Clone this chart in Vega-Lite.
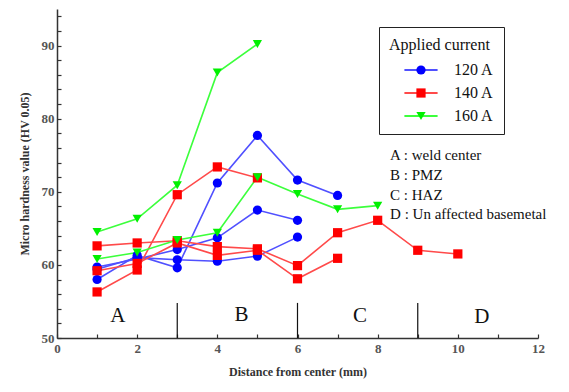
{
  "$schema": "https://vega.github.io/schema/vega-lite/v6.json",
  "width": 481,
  "height": 329,
  "autosize": "none",
  "padding": {"left": 57, "top": 9, "right": 31, "bottom": 54},
  "background": "white",
  "config": {"view": {"stroke": null}, "font": "Liberation Serif, serif"},
  "datasets": {
    "series": [
      {"x": 1, "y": 58.0, "current": "120 A", "run": "B1"},
      {"x": 2, "y": 61.3, "current": "120 A", "run": "B1"},
      {"x": 3, "y": 59.6, "current": "120 A", "run": "B1"},
      {"x": 4, "y": 71.2, "current": "120 A", "run": "B1"},
      {"x": 5, "y": 77.7, "current": "120 A", "run": "B1"},
      {"x": 6, "y": 71.6, "current": "120 A", "run": "B1"},
      {"x": 7, "y": 69.5, "current": "120 A", "run": "B1"},
      {"x": 1, "y": 59.7, "current": "120 A", "run": "B2"},
      {"x": 2, "y": 60.8, "current": "120 A", "run": "B2"},
      {"x": 3, "y": 62.1, "current": "120 A", "run": "B2"},
      {"x": 4, "y": 63.7, "current": "120 A", "run": "B2"},
      {"x": 5, "y": 67.5, "current": "120 A", "run": "B2"},
      {"x": 6, "y": 66.1, "current": "120 A", "run": "B2"},
      {"x": 1, "y": 59.4, "current": "120 A", "run": "B3"},
      {"x": 2, "y": 61.0, "current": "120 A", "run": "B3"},
      {"x": 3, "y": 60.7, "current": "120 A", "run": "B3"},
      {"x": 4, "y": 60.5, "current": "120 A", "run": "B3"},
      {"x": 5, "y": 61.2, "current": "120 A", "run": "B3"},
      {"x": 6, "y": 63.8, "current": "120 A", "run": "B3"},
      {"x": 1, "y": 56.3, "current": "140 A", "run": "R1"},
      {"x": 2, "y": 59.3, "current": "140 A", "run": "R1"},
      {"x": 3, "y": 69.6, "current": "140 A", "run": "R1"},
      {"x": 4, "y": 73.4, "current": "140 A", "run": "R1"},
      {"x": 5, "y": 71.9, "current": "140 A", "run": "R1"},
      {"x": 1, "y": 62.6, "current": "140 A", "run": "R2"},
      {"x": 2, "y": 63.0, "current": "140 A", "run": "R2"},
      {"x": 3, "y": 63.3, "current": "140 A", "run": "R2"},
      {"x": 4, "y": 62.5, "current": "140 A", "run": "R2"},
      {"x": 5, "y": 62.2, "current": "140 A", "run": "R2"},
      {"x": 6, "y": 59.9, "current": "140 A", "run": "R2"},
      {"x": 7, "y": 64.4, "current": "140 A", "run": "R2"},
      {"x": 8, "y": 66.1, "current": "140 A", "run": "R2"},
      {"x": 9, "y": 62.0, "current": "140 A", "run": "R2"},
      {"x": 10, "y": 61.5, "current": "140 A", "run": "R2"},
      {"x": 1, "y": 59.2, "current": "140 A", "run": "R3"},
      {"x": 2, "y": 60.2, "current": "140 A", "run": "R3"},
      {"x": 3, "y": 63.0, "current": "140 A", "run": "R3"},
      {"x": 4, "y": 61.3, "current": "140 A", "run": "R3"},
      {"x": 5, "y": 62.0, "current": "140 A", "run": "R3"},
      {"x": 6, "y": 58.1, "current": "140 A", "run": "R3"},
      {"x": 7, "y": 60.9, "current": "140 A", "run": "R3"},
      {"x": 1, "y": 64.5, "current": "160 A", "run": "G1"},
      {"x": 2, "y": 66.3, "current": "160 A", "run": "G1"},
      {"x": 3, "y": 70.9, "current": "160 A", "run": "G1"},
      {"x": 4, "y": 86.3, "current": "160 A", "run": "G1"},
      {"x": 5, "y": 90.2, "current": "160 A", "run": "G1"},
      {"x": 1, "y": 60.8, "current": "160 A", "run": "G2"},
      {"x": 2, "y": 61.7, "current": "160 A", "run": "G2"},
      {"x": 3, "y": 63.4, "current": "160 A", "run": "G2"},
      {"x": 4, "y": 64.4, "current": "160 A", "run": "G2"},
      {"x": 5, "y": 72.0, "current": "160 A", "run": "G2"},
      {"x": 6, "y": 69.7, "current": "160 A", "run": "G2"},
      {"x": 7, "y": 67.6, "current": "160 A", "run": "G2"},
      {"x": 8, "y": 68.1, "current": "160 A", "run": "G2"}
    ],
    "zones": [
      {"x": 3, "y": 50, "ytop": 54.8},
      {"x": 6, "y": 50, "ytop": 54.8},
      {"x": 9, "y": 50, "ytop": 54.8}
    ],
    "zlabels": [
      {"x": 1.52, "y": 53.0, "label": "A"},
      {"x": 4.6, "y": 53.1, "label": "B"},
      {"x": 7.56, "y": 53.0, "label": "C"},
      {"x": 10.6, "y": 52.9, "label": "D"}
    ],
    "notes": [
      {"x": 8.31, "y": 75.0, "label": "A : weld center"},
      {"x": 8.31, "y": 72.3, "label": "B : PMZ"},
      {"x": 8.31, "y": 69.6, "label": "C : HAZ"},
      {"x": 8.31, "y": 67.0, "label": "D : Un affected basemetal"}
    ]
  },
  "encoding": {
    "x": {
      "field": "x",
      "type": "quantitative",
      "scale": {"domain": [0, 12], "nice": false, "zero": false},
      "axis": {
        "title": "Distance from center (mm)",
        "values": [0, 0.5, 1, 1.5, 2, 2.5, 3, 3.5, 4, 4.5, 5, 5.5, 6, 6.5, 7, 7.5, 8, 8.5, 9, 9.5, 10, 10.5, 11, 11.5, 12],
        "format": "d",
        "labelExpr": "datum.value % 2 === 0 ? format(datum.value, 'd') : ''",
        "tickSize": -4,
        "labelPadding": 8,
        "grid": false,
        "domainColor": "#333",
        "domainWidth": 1.5,
        "tickColor": "#333",
        "tickWidth": 1.2,
        "labelFont": "Liberation Serif, serif",
        "labelFontSize": 13,
        "labelFontWeight": "bold",
        "labelColor": "#555",
        "labelFlush": false,
        "labelOverlap": false,
        "titleFont": "Liberation Serif, serif",
        "titleFontSize": 12,
        "titleFontWeight": "bold",
        "titleColor": "#333",
        "titlePadding": 11
      }
    },
    "y": {
      "field": "y",
      "type": "quantitative",
      "scale": {"domain": [50, 95], "nice": false, "zero": false},
      "axis": {
        "title": "Micro hardness value (HV 0.05)",
        "values": [50, 52, 54, 56, 58, 60, 62, 64, 66, 68, 70, 72, 74, 76, 78, 80, 82, 84, 86, 88, 90, 92, 94],
        "labelExpr": "datum.value % 10 === 0 ? datum.label : ''",
        "tickSize": -4,
        "labelPadding": 7,
        "grid": false,
        "domainColor": "#333",
        "domainWidth": 1.5,
        "tickColor": "#333",
        "tickWidth": 1.2,
        "labelFont": "Liberation Serif, serif",
        "labelFontSize": 13,
        "labelFontWeight": "bold",
        "labelColor": "#555",
        "labelFlush": false,
        "labelOverlap": false,
        "titleFont": "Liberation Serif, serif",
        "titleFontSize": 12,
        "titleFontWeight": "bold",
        "titleColor": "#333",
        "titlePadding": 10
      }
    }
  },
  "layer": [
    {
      "data": {"name": "zones"},
      "mark": {"type": "rule", "color": "#111", "strokeWidth": 1.2},
      "encoding": {"y2": {"field": "ytop"}}
    },
    {
      "data": {"name": "zlabels"},
      "mark": {"type": "text", "font": "Liberation Serif, serif", "fontSize": 21, "color": "#111", "baseline": "middle", "align": "center"},
      "encoding": {"text": {"field": "label"}}
    },
    {
      "data": {"name": "notes"},
      "mark": {"type": "text", "font": "Liberation Serif, serif", "fontSize": 15, "color": "#111", "baseline": "middle", "align": "left"},
      "encoding": {"text": {"field": "label"}}
    },
    {
      "data": {"name": "series"},
      "mark": {"type": "line", "strokeWidth": 1.6},
      "encoding": {
        "detail": {"field": "run"},
        "stroke": {
          "field": "current",
          "type": "nominal",
          "scale": {"domain": ["120 A", "140 A", "160 A"], "range": ["#5050ff", "#ff4a4a", "#3cff3c"]},
          "legend": {
            "title": "Applied current",
            "orient": "none",
            "legendX": 322,
            "legendY": 18,
            "padding": 10,
            "titleFont": "Liberation Serif, serif",
            "titleFontSize": 16,
            "titleFontWeight": "normal",
            "titleOpacity": 0,
            "titlePadding": 9,
            "labelFont": "Liberation Serif, serif",
            "labelFontSize": 16,
            "labelOpacity": 0,
            "labelOffset": 25,
            "symbolOffset": 24,
            "symbolSize": 85,
            "symbolType": "M-3.6,0H3.6",
            "symbolStrokeWidth": 1.8,
            "symbolFillColor": "transparent",
            "rowPadding": 7,
            "zindex": 0
          }
        }
      }
    },
    {
      "data": {"name": "series"},
      "mark": {"type": "point", "filled": true, "size": 85, "opacity": 1, "strokeWidth": 0},
      "encoding": {
        "fill": {
          "field": "current",
          "type": "nominal",
          "scale": {"range": ["#0000ff", "#ff0000", "#00f000"]},
          "legend": {
            "title": "Applied current",
            "orient": "none",
            "legendX": 322,
            "legendY": 18,
            "padding": 10,
            "strokeColor": "#222",
            "titleFont": "Liberation Serif, serif",
            "titleFontSize": 16,
            "titleFontWeight": "normal",
            "titleColor": "#111",
            "titlePadding": 9,
            "labelFont": "Liberation Serif, serif",
            "labelFontSize": 16,
            "labelColor": "#111",
            "labelOffset": 25,
            "symbolOffset": 24,
            "symbolSize": 85,
            "symbolStrokeWidth": 0,
            "rowPadding": 7,
            "zindex": 1
          }
        },
        "shape": {
          "field": "current",
          "type": "nominal",
          "scale": {"range": ["circle", "square", "triangle-down"]},
          "legend": {
            "title": "Applied current",
            "orient": "none",
            "legendX": 322,
            "legendY": 18,
            "padding": 10,
            "strokeColor": "#222",
            "titleFont": "Liberation Serif, serif",
            "titleFontSize": 16,
            "titleFontWeight": "normal",
            "titleColor": "#111",
            "titlePadding": 9,
            "labelFont": "Liberation Serif, serif",
            "labelFontSize": 16,
            "labelColor": "#111",
            "labelOffset": 25,
            "symbolOffset": 24,
            "symbolSize": 85,
            "symbolStrokeWidth": 0,
            "rowPadding": 7,
            "zindex": 1
          }
        }
      }
    }
  ]
}
